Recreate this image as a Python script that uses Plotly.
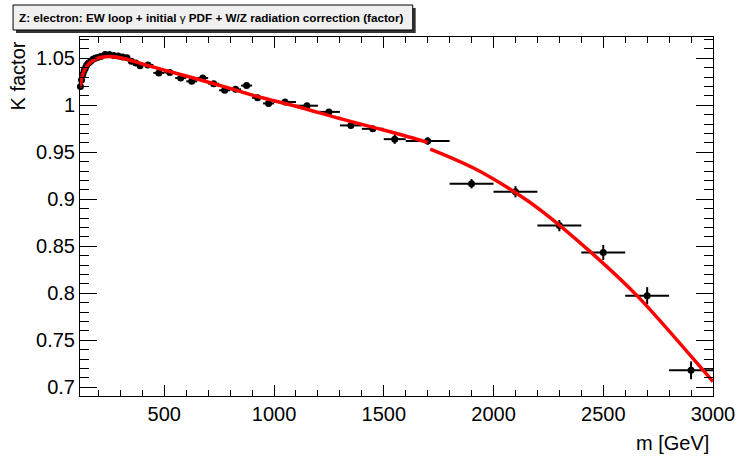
import plotly.graph_objects as go

# ---------------- data ----------------
bin_edges = [116, 120, 126, 132, 138, 144, 150, 160, 170, 180, 190, 200, 220, 240, 260,
             280, 300, 320, 340, 360, 380, 400, 450, 500, 550, 600, 650, 700, 750, 800,
             850, 900, 950, 1000, 1100, 1200, 1300, 1400, 1500, 1600, 1800, 2000, 2200,
             2400, 2600, 2800, 3000]
k_values = [1.020, 1.027, 1.033, 1.037, 1.040, 1.043, 1.045, 1.047, 1.049, 1.050, 1.051,
            1.052, 1.054, 1.054, 1.053, 1.0525, 1.0515, 1.0505, 1.047, 1.045, 1.042,
            1.043, 1.0345, 1.035, 1.029, 1.0255, 1.029, 1.023, 1.016, 1.017, 1.021,
            1.008, 1.002, 1.0035, 0.9996, 0.993, 0.9786, 0.975, 0.964, 0.962, 0.9166,
            0.908, 0.872, 0.8435, 0.7975, 0.718]
k_errors = [0.0015] * 33 + [0.003, 0.003, 0.003, 0.003, 0.003, 0.005, 0.004, 0.005,
                            0.006, 0.006, 0.008, 0.009, 0.0095]

fit1_mass = [116, 122, 130, 145, 165, 190, 220, 250, 280, 320, 400, 500, 650, 800, 923,
             1100, 1300, 1461, 1550, 1700]
fit1_k = [1.019, 1.027, 1.034, 1.041, 1.046, 1.0495, 1.0515, 1.052, 1.0515, 1.0495,
          1.044, 1.0375, 1.028, 1.018, 1.0095, 0.999, 0.986, 0.976, 0.9705, 0.9606]
fit2_mass = [1712, 1909, 2103, 2223, 2447, 2656, 2985, 3000]
fit2_k = [0.9535, 0.9333, 0.9067, 0.887, 0.843, 0.797, 0.710, 0.706]

x_range = [116, 3000]
y_range = [0.6907, 1.0727]

centers = [(a + b) / 2 for a, b in zip(bin_edges[:-1], bin_edges[1:])]
half_w = [(b - a) / 2 for a, b in zip(bin_edges[:-1], bin_edges[1:])]

# ---------------- figure ----------------
W, H = 747, 466
PL, PR, PT, PB = 80, 723, 37, 396


def px(x):
    return (x - PL) / (PR - PL)


def py(y):
    return (PB - y) / (PB - PT)


FONT = "Liberation Sans, Arial, Helvetica, sans-serif"

fig = go.Figure()
fig.add_trace(go.Scatter(
    x=centers, y=k_values, mode="markers",
    marker=dict(symbol="circle", size=7, color="black"),
    error_x=dict(type="data", array=half_w, color="black", thickness=2, width=0),
    error_y=dict(type="data", array=k_errors, color="black", thickness=2, width=0),
    cliponaxis=False, showlegend=False, hoverinfo="skip"))
fig.add_trace(go.Scatter(
    x=fit1_mass, y=fit1_k, mode="lines", line=dict(color="#ff0000", width=3.5, shape="spline"),
    showlegend=False, hoverinfo="skip"))
fig.add_trace(go.Scatter(
    x=fit2_mass, y=fit2_k, mode="lines", line=dict(color="#ff0000", width=3.5, shape="spline"),
    showlegend=False, hoverinfo="skip"))

axis_common = dict(showgrid=False, zeroline=False, showline=True, linecolor="black",
                   linewidth=1, mirror="ticks", ticks="inside", tickcolor="black",
                   tickwidth=1, tickfont=dict(family=FONT, size=20, color="black"))

fig.update_xaxes(range=x_range, tick0=0, dtick=500, ticklen=11,
                 minor=dict(dtick=100, ticklen=6, ticks="inside", tickcolor="black"),
                 **axis_common)
fig.update_yaxes(range=y_range, tick0=0.7, dtick=0.05, ticklen=17,
                 tickformat="~g",
                 minor=dict(dtick=0.01, ticklen=9, ticks="inside", tickcolor="black"),
                 **axis_common)

fig.update_layout(
    width=W, height=H,
    margin=dict(l=PL, r=W - PR, t=PT, b=H - PB, pad=0),
    plot_bgcolor="white", paper_bgcolor="white",
    font=dict(family=FONT, color="black"),
    shapes=[
        dict(type="rect", xref="paper", yref="paper", x0=px(15), x1=px(421), y0=py(33), y1=py(8),
             fillcolor="#333333", line=dict(width=0), layer="above"),
        dict(type="rect", xref="paper", yref="paper", x0=px(12), x1=px(418), y0=py(30), y1=py(5),
             fillcolor="#f0f0f0", line=dict(color="black", width=1), layer="above"),
    ],
    annotations=[
        dict(xref="paper", yref="paper", x=px(214), y=py(18), xanchor="center", yanchor="middle",
             showarrow=False,
             text="<b>Z: electron: EW loop + initial </b>γ<b> PDF + W/Z radiation correction (factor)</b>",
             font=dict(family=FONT, size=11.7, color="black")),
        dict(xref="paper", yref="paper", x=px(17), y=py(39), xanchor="center", yanchor="top",
             showarrow=False, textangle=-90, text="K factor",
             font=dict(family=FONT, size=20, color="black")),
        dict(xref="paper", yref="paper", x=px(721), y=py(443), xanchor="right", yanchor="middle",
             showarrow=False, text="m [GeV]",
             font=dict(family=FONT, size=20, color="black")),
    ],
)

fig.write_html("out.html",
               config={"displayModeBar": False},
               post_script="document.body.style.margin='0';document.body.style.overflow='hidden';")
